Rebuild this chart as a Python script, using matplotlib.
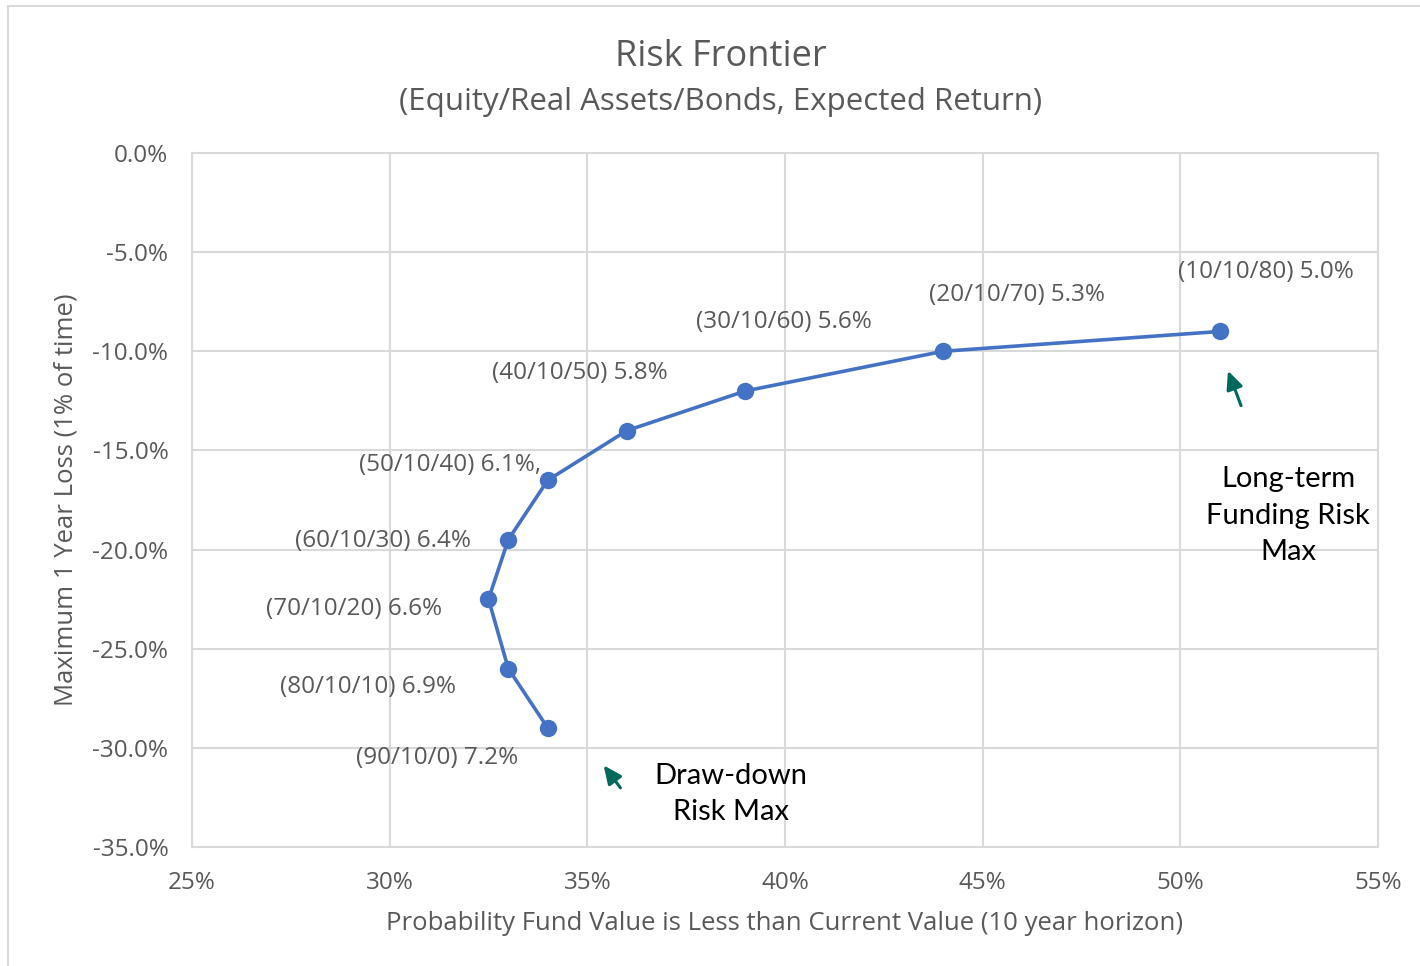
import matplotlib
matplotlib.use("Agg")
import matplotlib.pyplot as plt
from matplotlib.patches import Rectangle
from matplotlib.ticker import FuncFormatter, MultipleLocator

# ---- data ----
prob_below = [51.0, 44.0, 39.0, 36.0, 34.0, 33.0, 32.5, 33.0, 34.0]
max_loss = [-9.0, -10.0, -12.0, -14.0, -16.5, -19.5, -22.5, -26.0, -29.0]
labels = ["(10/10/80) 5.0%", "(20/10/70) 5.3%", "(30/10/60) 5.6%", "(40/10/50) 5.8%",
          "(50/10/40) 6.1%,", "(60/10/30) 6.4%", "(70/10/20) 6.6%", "(80/10/10) 6.9%",
          "(90/10/0) 7.2%"]
label_offsets_px = [(46, 59), (74, 56), (38, 69), (-47, 58), (-98, 15),
                    (-125, -1), (-134, -10), (-140, -18), (-111, -30)]

FONT = ["Open Sans", "DejaVu Sans"]
GRAY = "#595959"
BLUE = "#4472C4"
TEAL = "#00695C"
GRID = "#D9D9D9"

fig = plt.figure(figsize=(14.2, 9.66), dpi=100)
fig.patch.set_facecolor("white")
fig.patches.append(Rectangle((8 / 1420, -0.05), 1.2, 1 - 6 / 966 + 0.05, transform=fig.transFigure,
                             fill=False, edgecolor="#D9D9D9", linewidth=1.5))

ax = fig.add_axes([192 / 1420, 1 - 847 / 966, (1378 - 192) / 1420, (847 - 153) / 966])
ax.set_xlim(25, 55)
ax.set_ylim(-35, 0)
ax.xaxis.set_major_locator(MultipleLocator(5))
ax.yaxis.set_major_locator(MultipleLocator(5))
ax.xaxis.set_major_formatter(FuncFormatter(lambda v, p: f"{v:.0f}%"))
ax.yaxis.set_major_formatter(FuncFormatter(lambda v, p: f"{v:.1f}%"))
ax.grid(True, color=GRID, linewidth=1.5)
ax.set_axisbelow(True)
for s in ax.spines.values():
    s.set_color(GRID)
    s.set_linewidth(1.5)
ax.tick_params(axis="y", length=0, labelsize=17.5, labelcolor=GRAY, pad=17)
ax.tick_params(axis="x", length=0, labelsize=17.5, labelcolor=GRAY, pad=17)
for t in ax.get_xticklabels() + ax.get_yticklabels():
    t.set_family(FONT)

ax.plot(prob_below, max_loss, color=BLUE, linewidth=2.6, marker="o", markersize=11.5,
        zorder=3)

for x, y, lab, (dx, dy) in zip(prob_below, max_loss, labels, label_offsets_px):
    ax.annotate(lab, (x, y), xytext=(dx, dy), textcoords="offset pixels",
                ha="center", va="center", fontsize=17.5, color=GRAY, family=FONT)

# arrows
ax.annotate("", xy=(51.18, -10.85), xytext=(51.56, -12.87),
            arrowprops=dict(arrowstyle="-|>,head_length=1.1,head_width=0.5", color=TEAL, lw=2.2))
ax.annotate("", xy=(35.37, -30.77), xytext=(35.88, -32.13),
            arrowprops=dict(arrowstyle="-|>,head_length=1.1,head_width=0.5", color=TEAL, lw=2.2))

ax.text((1288 - 192) / (1378 - 192), 1 - (516 - 153) / (847 - 153),
        "Long-term\nFunding Risk\nMax", transform=ax.transAxes, ha="center", va="center",
        fontsize=21, color="black", family=["Lato", "DejaVu Sans"], linespacing=1.5)
ax.text((731 - 192) / (1378 - 192), 1 - (794 - 153) / (847 - 153),
        "Draw-down\nRisk Max", transform=ax.transAxes, ha="center", va="center",
        fontsize=21, color="black", family=["Lato", "DejaVu Sans"], linespacing=1.5)

fig.text(785 / 1420, 1 - 924 / 966,
         "Probability Fund Value is Less than Current Value (10 year horizon)",
         ha="center", va="center", fontsize=18.5, color=GRAY, family=FONT)
fig.text(66 / 1420, 1 - 500 / 966, "Maximum 1 Year Loss (1% of time)", rotation=90,
         ha="center", va="center", fontsize=18.5, color=GRAY, family=FONT)

fig.text(721 / 1420, 1 - 57 / 966, "Risk Frontier", ha="center", va="center",
         fontsize=26, color=GRAY, family=FONT)
fig.text(721 / 1420, 1 - 102 / 966, "(Equity/Real Assets/Bonds, Expected Return)",
         ha="center", va="center", fontsize=22.5, color=GRAY, family=FONT)

fig.savefig("out.png", dpi=100, facecolor="white")
